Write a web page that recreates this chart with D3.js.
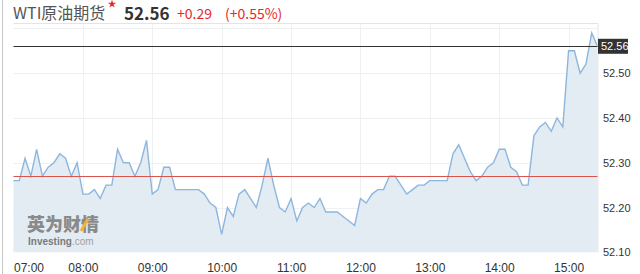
<!DOCTYPE html>
<html>
<head>
<meta charset="utf-8">
<script src="https://cdn.jsdelivr.net/npm/d3@7"></script>
<style>
  body { margin: 0; background: #fff; }
  svg { display: block; }
</style>
</head>
<body>
<script>
// WTI crude, 5 minute closes from 07:00 to 15:25
var prices = [
  52.26, 52.26, 52.31, 52.27, 52.33, 52.27, 52.29, 52.30, 52.32, 52.31, 52.27, 52.30,
  52.23, 52.23, 52.24, 52.22, 52.25, 52.25, 52.33, 52.30, 52.30, 52.27, 52.30, 52.35,
  52.23, 52.24, 52.29, 52.29, 52.24, 52.24, 52.24, 52.24, 52.24, 52.23, 52.21, 52.20,
  52.14, 52.20, 52.18, 52.23, 52.24, 52.22, 52.20, 52.25, 52.31, 52.25, 52.20, 52.19,
  52.22, 52.17, 52.20, 52.21, 52.20, 52.22, 52.19, 52.19, 52.19, 52.18, 52.17, 52.16,
  52.22, 52.21, 52.23, 52.24, 52.24, 52.27, 52.27, 52.25, 52.23, 52.24, 52.25, 52.25,
  52.26, 52.26, 52.26, 52.26, 52.32, 52.34, 52.31, 52.28, 52.26, 52.27, 52.29, 52.30,
  52.33, 52.33, 52.29, 52.28, 52.25, 52.25, 52.36, 52.38, 52.39, 52.37, 52.40, 52.38,
  52.55, 52.55, 52.50, 52.52, 52.59, 52.56
];
var lastPrice = 52.56;
var prevClose = 52.27;
var change = "+0.29";
var changePct = "(+0.55%)";
var priceTicks = [52.10, 52.20, 52.30, 52.40, 52.50];
var gridPrices = [52.20, 52.30, 52.40, 52.50, 52.60];
var hourTicks = ["07:00", "08:00", "09:00", "10:00", "11:00", "12:00", "13:00", "14:00", "15:00"];

var width = 640, height = 274;
var parseTime = d3.timeParse("%H:%M");
var start = parseTime("07:00"), end = parseTime("15:25");
var times = d3.timeMinutes(start, d3.timeMinute.offset(end, 1), 5);
var data = prices.map(function (p, i) { return { t: times[i], p: p }; });

var x = d3.scaleTime().domain([start, end]).range([13.5, 597.5]);
var y = d3.scaleLinear().domain([52.10, 52.612]).range([252.3, 23]);

var svg = d3.select("body").append("svg")
    .attr("width", width)
    .attr("height", height);

// page edge
svg.append("line")
    .attr("x1", 2.5).attr("x2", 2.5).attr("y1", 0).attr("y2", height)
    .attr("stroke", "#c8c8c8");

// title row
var title = svg.append("g").style("font-family", "'Noto Sans CJK SC', 'Noto Sans', sans-serif");
title.append("text").attr("x", 13).attr("y", 19)
    .attr("font-size", 16).attr("fill", "#555").text("WTI原油期货");
title.append("path")
    .attr("transform", "translate(112,4)")
    .attr("d", d3.symbol().type(d3.symbolStar).size(22)())
    .attr("fill", "#e8282d");
title.append("text").attr("x", 124).attr("y", 20)
    .attr("font-size", 17).attr("font-weight", "bold").attr("fill", "#333").text(lastPrice.toFixed(2));
title.append("text").attr("x", 177).attr("y", 19)
    .attr("font-size", 14).attr("fill", "#e8282d").text(change);
title.append("text").attr("x", 225).attr("y", 19)
    .attr("font-size", 14).attr("fill", "#e8282d").text(changePct);

// grid
var grid = svg.append("g").attr("stroke", "#eef0f2").attr("stroke-width", 1);
grid.selectAll(".h").data(gridPrices).enter().append("line")
    .attr("x1", x(start)).attr("x2", x(end))
    .attr("y1", function (d) { return Math.round(y(d)) + 0.5; })
    .attr("y2", function (d) { return Math.round(y(d)) + 0.5; });
grid.selectAll(".v").data(hourTicks.slice(1)).enter().append("line")
    .attr("x1", function (d) { return Math.round(x(parseTime(d))) + 0.5; })
    .attr("x2", function (d) { return Math.round(x(parseTime(d))) + 0.5; })
    .attr("y1", y.range()[1]).attr("y2", y.range()[0]);

// area + line
var area = d3.area()
    .x(function (d) { return x(d.t); })
    .y0(y(52.10))
    .y1(function (d) { return y(d.p); });
var line = d3.line()
    .x(function (d) { return x(d.t); })
    .y(function (d) { return y(d.p); });

svg.append("path").datum(data)
    .attr("d", area)
    .attr("fill", "#e3ecf3");

// watermark
var wm = svg.append("g").style("font-family", "'Noto Sans CJK SC', sans-serif");
wm.append("text").attr("x", 27).attr("y", 231)
    .attr("font-size", 18).attr("font-weight", "900").attr("fill", "#8a8a8a")
    .text("英为财情");
wm.append("path").attr("d", "M81,231 L88,219")
    .attr("stroke", "#f2b233").attr("stroke-width", 3);
wm.append("text").attr("x", 28).attr("y", 245)
    .attr("font-size", 10).attr("font-weight", "bold").attr("fill", "#7a7a7a")
    .style("font-family", "'Liberation Sans', Arial, sans-serif")
    .text("Investing")
  .append("tspan").attr("font-weight", "normal").attr("fill", "#a0a0a0").text(".com");

svg.append("path").datum(data)
    .attr("d", line)
    .attr("fill", "none")
    .attr("stroke", "#8db6de")
    .attr("stroke-width", 1.4);

// frame top + right
svg.append("path")
    .attr("d", "M" + x(start) + "," + (y.range()[1] + 0.5) + "H" + (x(end) + 0.5) + "V" + y.range()[0])
    .attr("fill", "none").attr("stroke", "#e4e4e4");

// previous close
svg.append("line")
    .attr("x1", x(start)).attr("x2", x(end))
    .attr("y1", Math.round(y(prevClose)) + 0.5).attr("y2", Math.round(y(prevClose)) + 0.5)
    .attr("stroke", "#d9534f");

// last price
svg.append("line")
    .attr("x1", x(start)).attr("x2", x(end))
    .attr("y1", Math.round(y(lastPrice)) + 0.5).attr("y2", Math.round(y(lastPrice)) + 0.5)
    .attr("stroke", "#333");

// right axis
var yAxis = svg.append("g")
    .attr("transform", "translate(" + (x(end) + 0.5) + ",0)")
    .call(d3.axisRight(y).tickValues(priceTicks).tickFormat(d3.format(".2f")).tickSize(0).tickPadding(5));
yAxis.select(".domain").remove();
yAxis.selectAll("text")
    .attr("fill", "#333").attr("font-size", 11)
    .style("font-family", "'Liberation Sans', Arial, sans-serif");

var tag = svg.append("g").attr("transform", "translate(" + (x(end) + 0.5) + "," + y(lastPrice) + ")");
tag.append("rect").attr("x", 0).attr("y", -7.5).attr("width", 30).attr("height", 15).attr("fill", "#333");
tag.append("text").attr("x", 3).attr("y", 4)
    .attr("font-size", 11).attr("fill", "#fff")
    .style("font-family", "'Liberation Sans', Arial, sans-serif")
    .text(lastPrice.toFixed(2));

// bottom axis
var xAxis = svg.append("g")
    .attr("transform", "translate(0," + y.range()[0] + ")")
    .call(d3.axisBottom(x).tickValues(hourTicks.map(parseTime)).tickFormat(d3.timeFormat("%H:%M")).tickSize(0).tickPadding(11));
xAxis.select(".domain").remove();
xAxis.selectAll("text")
    .attr("fill", "#333").attr("font-size", 12)
    .style("font-family", "'Liberation Sans', Arial, sans-serif");
xAxis.selectAll(".tick").filter(function (d, i) { return i === 0; })
    .select("text").attr("text-anchor", "start").attr("dx", 0);
</script>
</body>
</html>
